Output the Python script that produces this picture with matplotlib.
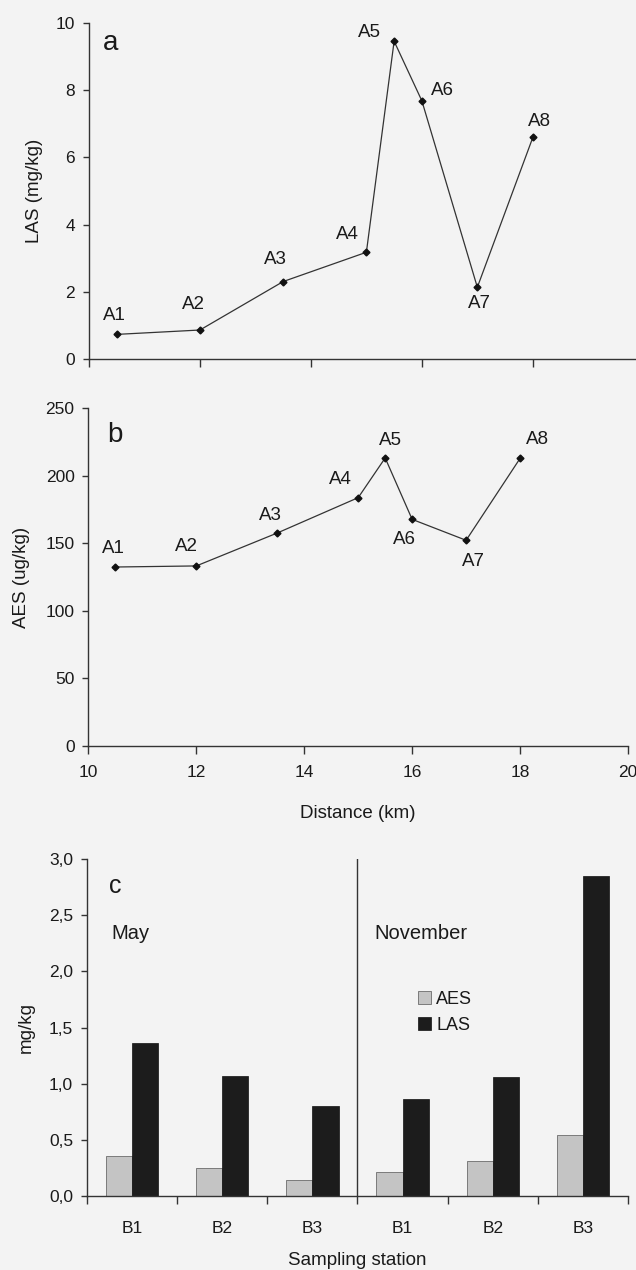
import numpy as np
import matplotlib.pyplot as plt
from matplotlib.ticker import FuncFormatter

plt.rcParams['font.family'] = ['Liberation Sans', 'DejaVu Sans']
plt.rcParams['text.color'] = '#1a1a1a'
plt.rcParams['axes.labelcolor'] = '#1a1a1a'
plt.rcParams['xtick.color'] = '#333333'
plt.rcParams['ytick.color'] = '#333333'
plt.rcParams['xtick.labelcolor'] = '#1a1a1a'
plt.rcParams['ytick.labelcolor'] = '#1a1a1a'

# data
stations = ['A1', 'A2', 'A3', 'A4', 'A5', 'A6', 'A7', 'A8']
distance = [10.5, 12.0, 13.5, 15.0, 15.5, 16.0, 17.0, 18.0]
las = [0.74, 0.87, 2.31, 3.18, 9.45, 7.68, 2.14, 6.59]
aes = [132.4, 133.2, 157.6, 183.8, 213.2, 167.7, 152.2, 212.9]

bar_stations = ['B1', 'B2', 'B3', 'B1', 'B2', 'B3']
aes_bar = [0.357, 0.25, 0.143, 0.211, 0.312, 0.541]
las_bar = [1.36, 1.07, 0.80, 0.862, 1.062, 2.849]

# label offsets (pixels)
off_a = [(-2, 19), (-6, 26), (-8, 22), (-19, 18), (-25, 9), (21, 10), (2, -16), (7, 16)]
off_b = [(-2, 19), (-10, 19), (-7, 18), (-18, 18), (5, 17), (-8, -20), (7, -21), (17, 19)]

bg = '#f3f3f3'
fig = plt.figure(figsize=(6.36, 12.7), dpi=100, facecolor=bg)

def style(ax):
    ax.set_facecolor(bg)
    for s in ['top', 'right']:
        ax.spines[s].set_visible(False)
    for s in ['left', 'bottom']:
        ax.spines[s].set_color('#333333')
        ax.spines[s].set_linewidth(1.0)
    ax.tick_params(axis='y', direction='out', length=4, width=1, labelsize=12.5, pad=6)
    ax.tick_params(axis='x', direction='out', length=6, width=1, labelsize=12.5, pad=8)

# panel a
ax1 = fig.add_axes([89 / 636, 1 - 359.3 / 1270, 547 / 636, 336.6 / 1270])
style(ax1)
ax1.plot(distance, las, color='#333333', lw=0.9, marker='D', ms=3.5, mfc='#111111', mec='#111111')
for s, x, y, o in zip(stations, distance, las, off_a):
    ax1.annotate(s, (x, y), xytext=o, textcoords='offset pixels', ha='center', va='center', fontsize=13.5)
ax1.set_xlim(10, 19.86)
ax1.set_ylim(0, 10)
ax1.set_xticks([10, 12, 14, 16, 18])
ax1.set_xticklabels([])
ax1.set_yticks([0, 2, 4, 6, 8, 10])
ax1.set_ylabel('LAS (mg/kg)', fontsize=13.5, labelpad=9)
ax1.text(0.025, 0.94, 'a', transform=ax1.transAxes, fontsize=20, va='center')

# panel b
ax2 = fig.add_axes([88.4 / 636, 1 - 745.7 / 1270, 539.6 / 636, 337.4 / 1270])
style(ax2)
ax2.plot(distance, aes, color='#333333', lw=0.9, marker='D', ms=3.5, mfc='#111111', mec='#111111')
for s, x, y, o in zip(stations, distance, aes, off_b):
    ax2.annotate(s, (x, y), xytext=o, textcoords='offset pixels', ha='center', va='center', fontsize=13.5)
ax2.set_xlim(10, 20)
ax2.set_ylim(0, 250)
ax2.set_xticks([10, 12, 14, 16, 18, 20])
ax2.set_yticks([0, 50, 100, 150, 200, 250])
ax2.set_ylabel('AES (ug/kg)', fontsize=13.5, labelpad=11)
ax2.set_xlabel('Distance (km)', fontsize=13.5, labelpad=18)
ax2.text(0.035, 0.92, 'b', transform=ax2.transAxes, fontsize=20, va='center')

# panel c
ax3 = fig.add_axes([87 / 636, 1 - 1195.7 / 1270, 541 / 636, 336.4 / 1270])
style(ax3)
x = np.arange(len(bar_stations))
w = 0.29
ax3.bar(x - w / 2, aes_bar, w, color='#c4c4c4', edgecolor='#555555', lw=0.5, label='AES')
ax3.bar(x + w / 2, las_bar, w, color='#1c1c1c', edgecolor='#111111', lw=0.5, label='LAS')
ax3.axvline(2.5, ymin=0, ymax=1, color='#333333', lw=1.0)
ax3.set_xlim(-0.5, 5.5)
ax3.set_ylim(0, 3.0)
ax3.set_yticks([0, 0.5, 1.0, 1.5, 2.0, 2.5, 3.0])
ax3.yaxis.set_major_formatter(FuncFormatter(lambda v, p: ('%.1f' % v).replace('.', ',')))
ax3.set_xticks(np.arange(-0.5, 6, 1))
ax3.set_xticklabels([])
ax3.set_xticks(x, minor=True)
ax3.set_xticklabels(bar_stations, minor=True)
ax3.tick_params(axis='x', which='minor', length=0, labelsize=12.5, pad=18)
ax3.set_ylabel('mg/kg', fontsize=13.5, labelpad=10)
ax3.set_xlabel('Sampling station', fontsize=13.5, labelpad=12)
ax3.text(0.04, 0.92, 'c', transform=ax3.transAxes, fontsize=18, va='center')
ax3.text(0.045, 0.78, 'May', transform=ax3.transAxes, fontsize=14.5, va='center')
ax3.text(0.532, 0.78, 'November', transform=ax3.transAxes, fontsize=14.5, va='center')
ax3.legend(loc='upper left', bbox_to_anchor=(409 / 636, 1 - 982 / 1270), bbox_transform=fig.transFigure,
           frameon=False, fontsize=13, handlelength=0.7, handleheight=0.7, handletextpad=0.3,
           labelspacing=0.5, borderpad=0)

fig.savefig('out.png', dpi=100, facecolor=bg)
